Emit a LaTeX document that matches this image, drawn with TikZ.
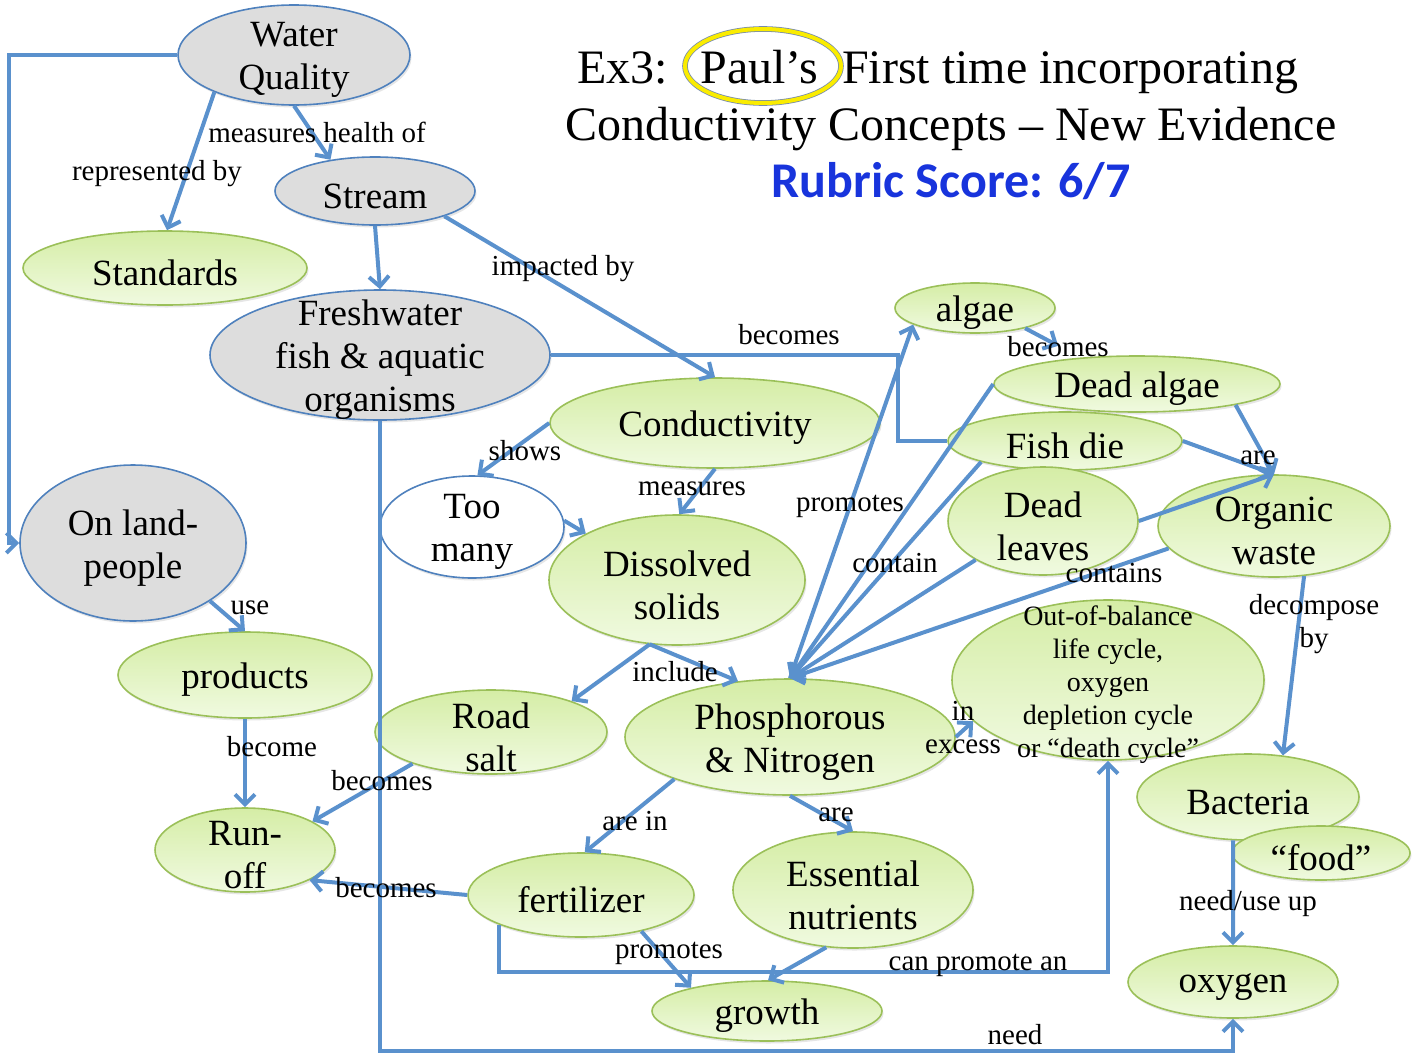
\documentclass[tikz,border=0pt]{standalone}
\usepackage{fontspec}
\setmainfont{Liberation Serif}
\newfontfamily\rubricfont{Carlito}
\usepackage{tikz}
\usetikzlibrary{shapes.geometric,arrows.meta,shadows,positioning}
\definecolor{edge}{RGB}{90,145,205}
\definecolor{bline}{RGB}{79,129,189}
\definecolor{gline}{RGB}{155,192,89}
\definecolor{gtop}{RGB}{213,237,166}
\definecolor{gbot}{RGB}{240,250,224}
\definecolor{gfill}{RGB}{221,221,221}
\definecolor{rubric}{RGB}{24,52,220}
\definecolor{ringedge}{RGB}{120,140,170}
\definecolor{ringfill}{RGB}{250,236,0}

\begin{document}
\begin{tikzpicture}[x=1pt,y=-1pt,
    line/.style={draw=edge,line width=4pt},
    arr/.style={line,-{Straight Barb[length=10pt,width=20pt]}},
    dims/.style 2 args={minimum width=#1,minimum height=#2},
    bub/.style={ellipse,line width=1.6pt,inner sep=0pt,
      drop shadow={opacity=0.2,shadow xshift=1.5pt,shadow yshift=-2.5pt}},
    greenbub/.style={bub,draw=gline,top color=gtop,bottom color=gbot},
    greybub/.style={bub,draw=bline,fill=gfill},
    whitebub/.style={bub,draw=bline,fill=white},
    txt/.style={font=\fontsize{37}{43}\selectfont,align=center,yshift=-5pt},
    smalltxt/.style={font=\fontsize{28}{33}\selectfont,align=center,yshift=-5pt},
    lbl/.style={font=\fontsize{29}{33}\selectfont,align=center,inner sep=0pt},
    title/.style={font=\fontsize{48}{57}\selectfont,inner sep=0pt},
    score/.style={font=\rubricfont\bfseries\fontsize{50}{57}\selectfont,text=rubric,inner sep=0pt},
    ring/.style={ellipse,draw=ringedge,line width=0.8pt,double=ringfill,double distance=4pt}]
    \useasboundingbox (0,0) rectangle (1418,1063);

    % title
    \node[title,anchor=base] (paul) at (759,83) {Paul's};
    \node[title,anchor=base east] (ex3) at ([xshift=-32pt]paul.base west) {Ex3:};
    \node[title,anchor=base west] (first) at ([xshift=24pt]paul.base east) {First time incorporating};
    \node[ring,dims={156pt}{74pt}] (circ) at (763,66) {};
    \node[title,anchor=base] (title2) at (951,140) {Conductivity Concepts -- New Evidence};
    \node[score,anchor=base] (score) at (951,197) {Rubric Score: 6/7};

    % concepts
    \node[greybub,dims={232pt}{100pt},label={[txt]center:{Water\\Quality}}] (wq) at (294,55) {};
    \node[greybub,dims={200pt}{68pt},label={[txt]center:Stream}] (stream) at (375,191) {};
    \node[greenbub,dims={284pt}{74pt},label={[txt]center:Standards}] (std) at (165,268) {};
    \node[greybub,dims={340pt}{130pt},label={[txt]center:{Freshwater\\fish \& aquatic\\organisms}}] (fresh) at (380,355) {};
    \node[greenbub,dims={330pt}{90pt},label={[txt]center:Conductivity}] (cond) at (715,423) {};
    \node[whitebub,dims={184pt}{102pt},label={[txt]center:{Too\\many}}] (many) at (472,527) {};
    \node[greenbub,dims={256pt}{130pt},label={[txt]center:{Dissolved\\solids}}] (diss) at (677,580) {};
    \node[greybub,dims={226pt}{156pt},label={[txt]center:{On land-\\people}}] (land) at (133,543) {};
    \node[greenbub,dims={254pt}{86pt},label={[txt]center:products}] (prod) at (245,675) {};
    \node[greenbub,dims={232pt}{84pt},label={[txt]center:{Road\\salt}}] (salt) at (491,732) {};
    \node[greenbub,dims={180pt}{84pt},label={[txt]center:{Run-\\off}}] (runoff) at (245,850) {};
    \node[greenbub,dims={330pt}{116pt},label={[txt]center:{Phosphorous\\\& Nitrogen}}] (pn) at (790,737) {};
    \node[greenbub,dims={226pt}{84pt},label={[txt]center:fertilizer}] (fert) at (581,895) {};
    \node[greenbub,dims={240pt}{116pt},label={[txt]center:{Essential\\nutrients}}] (ess) at (853,890) {};
    \node[greenbub,dims={230pt}{60pt},label={[txt]center:growth}] (growth) at (767,1011) {};
    \node[greenbub,dims={160pt}{50pt},label={[txt]center:algae}] (algae) at (975,308) {};
    \node[greenbub,dims={286pt}{56pt},label={[txt]center:Dead algae}] (dalgae) at (1137,384) {};
    \node[greenbub,dims={234pt}{58pt},label={[txt]center:Fish die}] (fish) at (1065,441) {};
    \node[greenbub,dims={190pt}{108pt},label={[txt]center:{Dead\\leaves}}] (leaves) at (1043,521) {};
    \node[greenbub,dims={232pt}{102pt},label={[txt]center:{Organic\\waste}}] (waste) at (1274,526) {};
    \node[greenbub,dims={312pt}{160pt},label={[smalltxt]center:{Out-of-balance\\life cycle,\\oxygen\\depletion cycle\\or ``death cycle''}}] (cycle) at (1108,680) {};
    \node[greenbub,dims={222pt}{86pt},label={[txt]center:Bacteria}] (bact) at (1248,797) {};
    \node[greenbub,dims={178pt}{54pt},label={[txt]center:``food''}] (food) at (1321,853) {};
    \node[greenbub,dims={210pt}{72pt},label={[txt]center:oxygen}] (oxy) at (1233,982) {};

    % links
    \draw[arr] (wq.205) -- (std.87);
    \draw[arr] (wq.south) -- (stream.145);
    \draw[arr] (wq.west) -- ++(-168,0) |- (land.west);
    \draw[arr] (stream.south) -- (fresh.north);
    \draw[arr] (stream.340) -- (cond.north);
    \draw[line] (fresh.east) -- ++(347,0) |- (fish.west);
    \draw[arr] (fresh.south) -- ++(0,630) -| (oxy.south);
    \draw[arr] (cond.west) -- (many.84);
    \draw[arr] (cond.south) -- (diss.88);
    \draw[arr] (many.4) -- (diss.153);
    \draw[arr] (diss.247) -- (salt.21);
    \draw[arr] (diss.247) -- (pn.133);
    \draw[arr] (land.323) -- (prod.north);
    \draw[arr] (prod.south) -- (runoff.north);
    \draw[arr] (salt.202) -- (runoff.23);
    \draw[arr] (fert.west) -- (runoff.335);
    \draw[arr] (pn.200) -- (fert.85);
    \draw[arr] (pn.south) -- (ess.north);
    \draw[arr] (pn.east) -- (cycle.197);
    \draw[arr] (fert.329) -- (growth.163);
    \draw[arr] (fert.200) -- ++(0,47) -| (cycle.south);
    \draw[arr] (ess.245) -- (growth.88);
    \draw[arr] (waste.301) -- (bact.50);
    \draw[arr] (bact.251) -- (oxy.north);
    \draw[arr,shorten >=25pt] (algae.338) -- (dalgae.155);
    \draw[arr] (dalgae.348) -- (waste.north);
    \draw[arr] (fish.east) -- (waste.north);
    \draw[arr] (leaves.east) -- (waste.north);
    \draw[arr] (pn.north) -- (algae.195);
    \draw[arr] (dalgae.west) -- (pn.north);
    \draw[arr] (fish.194) -- (pn.north);
    \draw[arr] (leaves.210) -- (pn.north);
    \draw[arr] (waste.192) -- (pn.north);

    % link labels
    \node[lbl] (l-rep) at (157,174) {represented by};
    \node[lbl] (l-health) at (317,132) {measures health of};
    \node[lbl] (l-impact) at (563,269) {impacted by};
    \node[lbl] (l-fishdie) at (789,335) {becomes};
    \node[lbl] (l-shows) at (525,451) {shows};
    \node[lbl] (l-measures) at (692,489) {measures};
    \node[lbl] (l-promalgae) at (850,506) {promotes};
    \node[lbl] (l-contain) at (895,563) {contain};
    \node[lbl] (l-contains) at (1114,573) {contains};
    \node[lbl] (l-dead) at (1058,347) {becomes};
    \node[lbl] (l-are) at (1258,458) {are};
    \node[lbl] (l-use) at (250,608) {use};
    \node[lbl] (l-decomp) at (1314,624) {decompose\\by};
    \node[lbl] (l-include) at (675,672) {include};
    \node[lbl] (l-become) at (272,747) {become};
    \node[lbl] (l-salt) at (382,781) {becomes};
    \node[lbl] (l-excess) at (963,728) {in\\excess};
    \node[lbl] (l-arein) at (635,821) {are in};
    \node[lbl] (l-ess) at (836,815) {are};
    \node[lbl] (l-fert) at (386,888) {becomes};
    \node[lbl] (l-promgrow) at (669,953) {promotes};
    \node[lbl] (l-canprom) at (978,965) {can promote an};
    \node[lbl] (l-useup) at (1248,904) {need/use up};
    \node[lbl] (l-need) at (1015,1035) {need};
\end{tikzpicture}
\end{document}
